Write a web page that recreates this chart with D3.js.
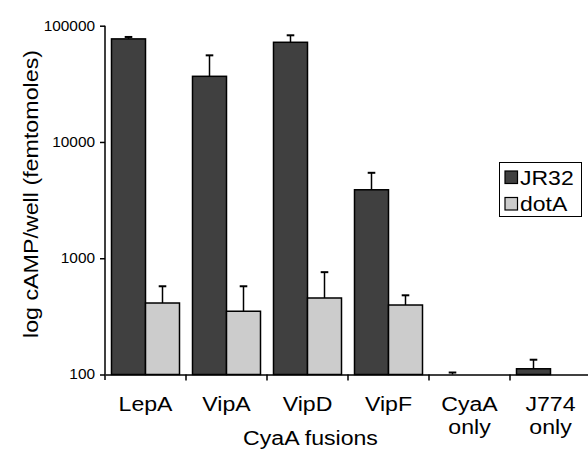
<!DOCTYPE html>
<html><head><meta charset="utf-8">
<script src="https://cdn.jsdelivr.net/npm/d3@7"></script>
<style>
body{margin:0;background:#fff;}
text{font-family:"Liberation Sans",Arial,Helvetica,sans-serif;fill:#000;}
</style></head>
<body><svg id="c" width="588" height="462"></svg>
<script>
const categories = [["LepA"],["VipA"],["VipD"],["VipF"],["CyaA","only"],["J774","only"]];
const series = ["JR32","dotA"];
const jr32 = [77000, 36700, 72000, 3880, 100, 112];
const jr32Err = [3000, 18900, 10700, 1550, 4, 22];
const dotA = [412, 350, 455, 396, null, null];
const dotAErr = [162, 224, 304, 84, null, null];
const yTicks = [100, 1000, 10000, 100000];
const colors = {JR32:"#404040", dotA:"#cccccc"};

const svg = d3.select("#c");
const keys = categories.map(c=>c.join(" "));
const x = d3.scaleBand().domain(keys).range([105, 591]);
const xs = d3.scaleBand().domain(series).range([6.5, x.bandwidth()-6.5]);
const y = d3.scaleLog().domain([100,100000]).range([374.5, 25.7]);

const data = [];
keys.forEach((k,i)=>{
  data.push({k, s:"JR32", v:jr32[i], e:jr32Err[i]});
  if (dotA[i]!=null) data.push({k, s:"dotA", v:dotA[i], e:dotAErr[i]});
});

const eg = svg.append("g");
data.forEach(d=>{
  const cx = x(d.k)+xs(d.s)+xs.bandwidth()/2;
  eg.append("line").attr("x1",cx).attr("x2",cx).attr("y1",y(d.v)).attr("y2",y(d.v+d.e))
    .attr("stroke","#000").attr("stroke-width",1.5);
  eg.append("line").attr("x1",cx-3.8).attr("x2",cx+3.8).attr("y1",y(d.v+d.e)).attr("y2",y(d.v+d.e))
    .attr("stroke","#000").attr("stroke-width",2);
});

svg.append("g").selectAll("rect").data(data.filter(d=>d.v>100)).join("rect")
  .attr("x",d=>x(d.k)+xs(d.s)).attr("width",xs.bandwidth())
  .attr("y",d=>y(d.v)).attr("height",d=>y(100)-y(d.v))
  .attr("fill",d=>colors[d.s]).attr("stroke","#000").attr("stroke-width",1.5);

// y axis
const ya = svg.append("g").attr("transform","translate(105,0)")
  .call(d3.axisLeft(y).tickValues(yTicks).tickFormat(d3.format("d")).tickSize(5).tickPadding(5));
ya.select(".domain").attr("stroke","#000").attr("stroke-width",1.5).attr("d","M0,25.7V380");
ya.selectAll(".tick line").attr("stroke","#000").attr("stroke-width",1.5);
ya.selectAll(".tick text").style("font-size","14px").attr("fill","#000")
  .attr("transform","translate(-10,0) scale(1.1,1) translate(10,0)");

// x axis
const xa = svg.append("g").attr("transform","translate(0,374.5)")
  .call(d3.axisBottom(x).tickSize(0).tickFormat(()=>""));
xa.select(".domain").attr("stroke","#000").attr("stroke-width",1.5);
const bounds = keys.map(k=>x(k)).concat([x.range()[1]]);
xa.selectAll(".bt").data(bounds.slice(1)).join("line").attr("class","bt")
  .attr("x1",d=>d).attr("x2",d=>d).attr("y1",0).attr("y2",6).attr("stroke","#000").attr("stroke-width",1.5);
xa.selectAll(".tick text").each(function(d,i){
  const t = d3.select(this).text(null).attr("y",37).attr("dy",null).style("font-size","21px")
    .attr("transform","scale(1.1,1)");
  categories[i].forEach((line,j)=>t.append("tspan").attr("x",0).attr("dy", j===0?0:23).text(line));
});

// axis titles
svg.append("text").attr("transform","translate(310.5,445) scale(1.1,1)").attr("text-anchor","middle")
  .style("font-size","21px").text("CyaA fusions");
svg.append("text").attr("transform","translate(38,194) rotate(-90)").attr("text-anchor","middle")
  .attr("textLength",288).attr("lengthAdjust","spacingAndGlyphs")
  .style("font-size","21px").text("log cAMP/well (femtomoles)");

// legend
const lg = svg.append("g");
lg.append("rect").attr("x",499.5).attr("y",162.5).attr("width",82).attr("height",54)
  .attr("fill","#fff").attr("stroke","#000").attr("stroke-width",1);
series.forEach((s,i)=>{
  lg.append("rect").attr("x",505).attr("y",171+i*26.5).attr("width",12.5).attr("height",12.5)
    .attr("fill",colors[s]).attr("stroke","#000").attr("stroke-width",1.2);
  lg.append("text").attr("transform",`translate(520,${184.5+i*26.5}) scale(1.15,1)`)
    .style("font-size","20px").text(s);
});
</script></body></html>
